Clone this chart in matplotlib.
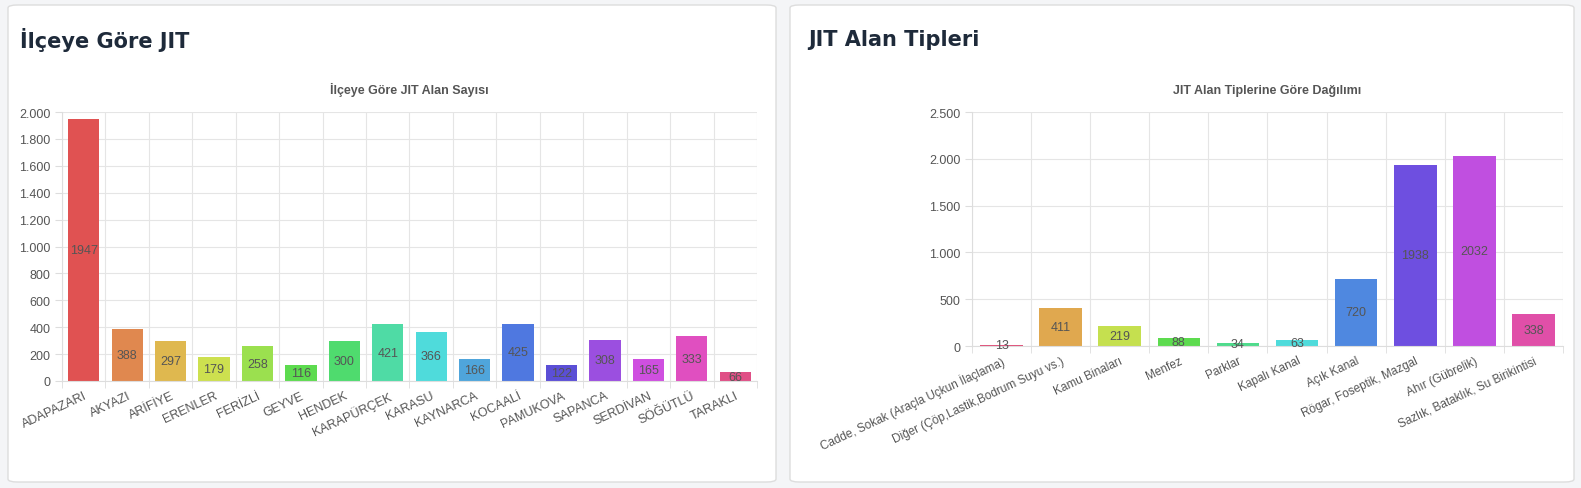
import matplotlib.pyplot as plt
from matplotlib.patches import FancyBboxPatch
from matplotlib.ticker import FuncFormatter

ilceler = ['ADAPAZARI', 'AKYAZI', 'ARİFİYE', 'ERENLER', 'FERİZLİ', 'GEYVE', 'HENDEK', 'KARAPÜRÇEK',
           'KARASU', 'KAYNARCA', 'KOCAALİ', 'PAMUKOVA', 'SAPANCA', 'SERDİVAN', 'SÖĞÜTLÜ', 'TARAKLI']
ilce_sayi = [1947, 388, 297, 179, 258, 116, 300, 421, 366, 166, 425, 122, 308, 165, 333, 66]
ilce_renk = ['#e05252', '#e0884f', '#dfb84f', '#cde04f', '#9be04f', '#5ddb4f', '#4fdb6e', '#4fdba5',
             '#4fdbdb', '#4fa5db', '#4f78e0', '#5b4fd6', '#9b4fe0', '#cf4fe0', '#e04fc0', '#e04f86']

tipler = ['Cadde, Sokak (Araçla Uçkun İlaçlama)', 'Diğer (Çöp,Lastik,Bodrum Suyu vs.)', 'Kamu Binaları',
          'Menfez', 'Parklar', 'Kapalı Kanal', 'Açık Kanal', 'Rögar, Foseptik, Mazgal',
          'Ahır (Gübrelik)', 'Sazlık, Bataklık, Su Birikintisi']
tip_sayi = [13, 411, 219, 88, 34, 63, 720, 1938, 2032, 338]
tip_renk = ['#e0527a', '#e0a84f', '#c5e04f', '#5ddb4f', '#4fdb8c', '#4fdbdb', '#4f88e0', '#6e4fe0',
            '#c04fe0', '#e04fa8']

plt.rcParams['font.family'] = 'Liberation Sans'
fig = plt.figure(figsize=(15.81, 4.89), dpi=100)
fig.patch.set_facecolor('#f4f5f7')
W, H = 1581, 489

def card(x0, y0, x1, y1):
    p = FancyBboxPatch((x0 / W, 1 - y1 / H), (x1 - x0) / W, (y1 - y0) / H,
                       boxstyle='round,pad=0,rounding_size=0.006', transform=fig.transFigure,
                       facecolor='white', edgecolor='#dddddd', linewidth=1, zorder=-10)
    fig.patches.append(p)

card(8, 6, 776, 483)
card(790, 6, 1574, 483)
fig.text(20 / W, 1 - 40 / H, 'İlçeye Göre JIT', fontsize=15, fontweight='bold', color='#1e2a3a',
         va='center', family='Poppins' if False else 'DejaVu Sans')
fig.text(808 / W, 1 - 40 / H, 'JIT Alan Tipleri', fontsize=15, fontweight='bold', color='#1e2a3a',
         va='center', family='DejaVu Sans')

fmt = FuncFormatter(lambda v, p: f'{int(v):,}'.replace(',', '.'))

def draw(rect, labels, vals, colors, ymax, step, title, lsize):
    ax = fig.add_axes(rect)
    ax.patch.set_alpha(0)
    x = range(len(vals))
    ax.bar(x, vals, width=0.72, color=colors, zorder=2)
    for i, v in enumerate(vals):
        ax.text(i, v / 2, str(v), ha='center', va='center', fontsize=9, color='#555555', zorder=3)
    ax.set_xlim(-0.5, len(vals) - 0.5)
    ax.set_ylim(0, ymax)
    ax.set_yticks(range(0, ymax + 1, step))
    ax.yaxis.set_major_formatter(fmt)
    ax.set_xticks([i - 0.5 for i in range(len(vals) + 1)], minor=True)
    ax.set_xticks(list(x))
    ax.set_xticklabels(labels, rotation=25, ha='right', fontsize=lsize, color='#555555', rotation_mode='anchor')
    ax.tick_params(axis='x', which='major', length=0, pad=6)
    ax.tick_params(axis='x', which='minor', length=5, color='#dddddd')
    ax.tick_params(axis='y', labelsize=9, labelcolor='#555555', length=5, color='#dddddd')
    ax.grid(True, which='minor', axis='x', color='#e5e5e5', zorder=0)
    ax.grid(True, which='major', axis='y', color='#e5e5e5', zorder=0)
    for s in ax.spines.values():
        s.set_visible(False)
    ax.spines['left'].set_visible(True)
    ax.spines['left'].set_color('#dddddd')
    ax.spines['bottom'].set_visible(True)
    ax.spines['bottom'].set_color('#dddddd')
    ax.set_title(title, fontsize=9, fontweight='bold', color='#555555', pad=14)

draw([62 / W, 1 - 382 / H, 695 / W, 269 / H], ilceler, ilce_sayi, ilce_renk, 2000, 200,
     'İlçeye Göre JIT Alan Sayısı', 9)
draw([972 / W, 1 - 347 / H, 591 / W, 234 / H], tipler, tip_sayi, tip_renk, 2500, 500,
     'JIT Alan Tiplerine Göre Dağılımı', 8.5)

fig.savefig('out.png', dpi=100, facecolor=fig.get_facecolor())
